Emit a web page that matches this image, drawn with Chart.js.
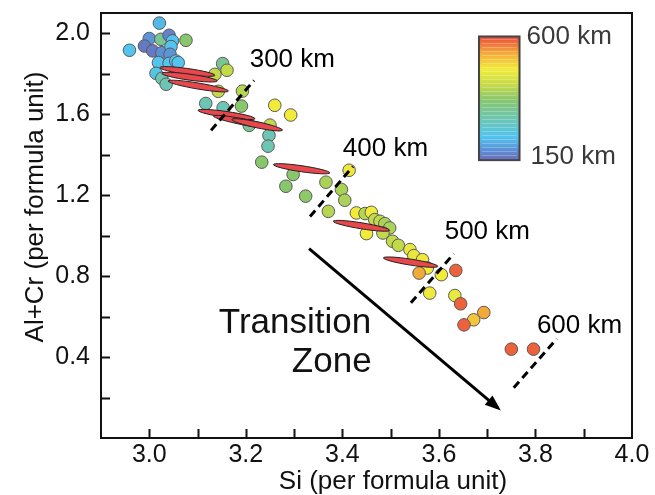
<!DOCTYPE html>
<html lang="en">
<head>
<meta charset="UTF-8">
<title>Si vs Al+Cr</title>
<script src="https://cdn.jsdelivr.net/npm/chart.js"></script>
<style>
  html, body { margin: 0; padding: 0; background: #fff; }
</style>
</head>
<body>
<canvas id="chart" width="655" height="495"></canvas>
<script>
// garnet analyses: Si and Al+Cr (per formula unit), depth coded by colour
var siValues = [3.021, 2.959, 3.000, 2.990, 3.024, 3.041, 3.048, 3.076, 3.007, 3.026,
                3.045, 3.043, 3.019, 3.041, 3.055, 3.060, 3.014, 3.026, 3.035, 3.152,
                3.161, 3.136, 3.143, 3.193, 3.117, 3.153, 3.191, 3.260, 3.293, 3.250,
                3.207, 3.248, 3.246, 3.233, 3.298, 3.283, 3.366, 3.324, 3.371, 3.414,
                3.398, 3.405, 3.429, 3.447, 3.460, 3.467, 3.478, 3.488, 3.498, 3.450,
                3.484, 3.504, 3.516, 3.540, 3.548, 3.566, 3.576, 3.559, 3.605, 3.635,
                3.581, 3.633, 3.645, 3.693, 3.672, 3.652, 3.750, 3.796];
var alcrValues = [2.050, 1.916, 1.974, 1.937, 1.970, 1.990, 1.962, 1.965, 1.913, 1.904,
                  1.934, 1.896, 1.855, 1.851, 1.863, 1.855, 1.802, 1.777, 1.748, 1.850,
                  1.817, 1.797, 1.713, 1.714, 1.653, 1.632, 1.640, 1.644, 1.596, 1.546,
                  1.545, 1.495, 1.442, 1.363, 1.302, 1.244, 1.264, 1.195, 1.120, 1.323,
                  1.228, 1.175, 1.112, 1.109, 1.115, 1.079, 1.071, 1.059, 1.038, 1.010,
                  1.013, 0.972, 0.952, 0.931, 0.901, 0.881, 0.840, 0.815, 0.807, 0.828,
                  0.716, 0.704, 0.663, 0.620, 0.584, 0.559, 0.439, 0.439];
var depthKm = [225, 235, 190, 165, 330, 170, 235, 370, 165, 185,
               235, 190, 235, 235, 235, 235, 245, 300, 300, 330,
               420, 420, 420, 410, 300, 300, 370, 480, 480, 420,
               330, 300, 300, 370, 370, 370, 400, 375, 410, 485,
               400, 400, 480, 410, 480, 420, 420, 400, 400, 480,
               420, 420, 420, 470, 470, 475, 480, 540, 480, 585,
               475, 470, 585, 540, 515, 585, 585, 585];

// red elongated ellipses (end points in data units)
var ellSi1 = [3.022, 3.026, 3.039, 3.101, 3.133, 3.171, 3.257, 3.381, 3.485];
var ellAl1 = [1.830, 1.802, 1.764, 1.619, 1.591, 1.574, 1.351, 1.071, 0.890];
var ellSi2 = [3.136, 3.141, 3.164, 3.219, 3.257, 3.276, 3.374, 3.498, 3.598];
var ellAl2 = [1.792, 1.764, 1.714, 1.578, 1.533, 1.521, 1.310, 1.026, 0.848];

// dashed depth markers
var depthNames = ['300 km', '400 km', '500 km', '600 km'];
var markSi1 = [3.128, 3.333, 3.542, 3.755];
var markAl1 = [1.520, 1.094, 0.668, 0.248];
var markSi2 = [3.217, 3.422, 3.631, 3.844];
var markAl2 = [1.767, 1.342, 0.911, 0.490];
var nameSi = [3.208, 3.401, 3.612, 3.803];
var nameAl = [1.871, 1.431, 1.020, 0.554];

// arrow of the transition zone
var arrowSi = [3.331, 3.722];
var arrowAl = [0.936, 0.149];

// axis ticks
var xTickValues = [3.0, 3.1, 3.2, 3.3, 3.4, 3.5, 3.6, 3.7, 3.8, 3.9, 4.0];
var yTickValues = [0.2, 0.4, 0.6, 0.8, 1.0, 1.2, 1.4, 1.6, 1.8, 2.0];

var colorStops = [[150, '#6b6bb5'], [185, '#5d8fd6'], [235, '#52c4ee'], [300, '#6dc6b4'],
                  [370, '#88c76c'], [420, '#c2d94a'], [480, '#f1ec3a'], [540, '#f3a93a'],
                  [600, '#ea4a3e']];

var FONT = '"Liberation Sans", Arial, sans-serif';

function hexToRgb(h) {
    return [parseInt(h.substr(1, 2), 16), parseInt(h.substr(3, 2), 16), parseInt(h.substr(5, 2), 16)];
}

function depthColor(d) {
    for (var i = 0; i < colorStops.length - 1; i++) {
        var a = colorStops[i], b = colorStops[i + 1];
        if (d <= b[0]) {
            var t = Math.max(0, (d - a[0]) / (b[0] - a[0]));
            var ca = hexToRgb(a[1]), cb = hexToRgb(b[1]);
            var c = ca.map(function (v, k) { return Math.round(v + (cb[k] - v) * t); });
            return 'rgb(' + c.join(',') + ')';
        }
    }
    return colorStops[colorStops.length - 1][1];
}

var points = siValues.map(function (x, i) { return { x: x, y: alcrValues[i] }; });

var datasets = [];
for (var i = 0; i < depthNames.length; i++) {
    datasets.push({
        type: 'line',
        data: [{ x: markSi1[i], y: markAl1[i] }, { x: markSi2[i], y: markAl2[i] }],
        borderColor: '#000',
        borderWidth: 3,
        borderDash: [8, 5],
        pointRadius: 0,
        order: 0
    });
}
datasets.push({
    type: 'line',
    data: [{ x: arrowSi[0], y: arrowAl[0] }, { x: arrowSi[1], y: arrowAl[1] }],
    borderColor: '#000',
    borderWidth: 3,
    pointRadius: 0,
    order: 0
});
var POINTS_INDEX = datasets.length;
datasets.push({
    type: 'scatter',
    data: points,
    backgroundColor: depthKm.map(depthColor),
    borderColor: '#5a5a5a',
    borderWidth: 1,
    pointRadius: 6.3,
    order: 1
});

var extras = {
    id: 'extras',
    afterDatasetDraw: function (chart, args) {
        if (args.index !== POINTS_INDEX) return;
        var ctx = chart.ctx, sx = chart.scales.x, sy = chart.scales.y;
        ctx.save();
        for (var i = 0; i < ellSi1.length; i++) {
            var x1 = sx.getPixelForValue(ellSi1[i]), y1 = sy.getPixelForValue(ellAl1[i]);
            var x2 = sx.getPixelForValue(ellSi2[i]), y2 = sy.getPixelForValue(ellAl2[i]);
            ctx.beginPath();
            ctx.ellipse((x1 + x2) / 2, (y1 + y2) / 2, Math.hypot(x2 - x1, y2 - y1) / 2, 3,
                        Math.atan2(y2 - y1, x2 - x1), 0, 2 * Math.PI);
            ctx.fillStyle = '#e8474c';
            ctx.fill();
            ctx.lineWidth = 1;
            ctx.strokeStyle = '#222';
            ctx.stroke();
        }
        ctx.restore();
    },
    afterDraw: function (chart) {
        var ctx = chart.ctx, sx = chart.scales.x, sy = chart.scales.y, a = chart.chartArea;
        ctx.save();

        // arrow head
        var ax0 = sx.getPixelForValue(arrowSi[0]), ay0 = sy.getPixelForValue(arrowAl[0]);
        var ax1 = sx.getPixelForValue(arrowSi[1]), ay1 = sy.getPixelForValue(arrowAl[1]);
        var ang = Math.atan2(ay1 - ay0, ax1 - ax0);
        ctx.translate(ax1, ay1);
        ctx.rotate(ang);
        ctx.beginPath();
        ctx.moveTo(4, 0);
        ctx.lineTo(-12, -6);
        ctx.lineTo(-12, 6);
        ctx.closePath();
        ctx.fillStyle = '#000';
        ctx.fill();
        ctx.setTransform(1, 0, 0, 1, 0, 0);

        // inward tick marks
        ctx.strokeStyle = '#111';
        ctx.lineWidth = 2;
        sx.ticks.forEach(function (t) {
            if (t.value >= 3.995) return;
            var p = Math.round(sx.getPixelForValue(t.value)) + 0.5;
            ctx.beginPath(); ctx.moveTo(p, a.bottom); ctx.lineTo(p, a.bottom - 9); ctx.stroke();
        });
        sy.ticks.forEach(function (t) {
            var p = Math.round(sy.getPixelForValue(t.value)) + 0.5;
            ctx.beginPath(); ctx.moveTo(a.left, p); ctx.lineTo(a.left + 9, p); ctx.stroke();
        });
        ctx.strokeRect(a.left, a.top, a.right - a.left, a.bottom - a.top);

        // depth labels
        ctx.fillStyle = '#000';
        ctx.font = '26px ' + FONT;
        ctx.textAlign = 'left';
        ctx.textBaseline = 'middle';
        for (var i = 0; i < depthNames.length; i++) {
            ctx.fillText(depthNames[i], sx.getPixelForValue(nameSi[i]), sy.getPixelForValue(nameAl[i]));
        }

        // transition zone
        ctx.font = '35px ' + FONT;
        ctx.textAlign = 'center';
        ctx.fillStyle = '#111';
        ctx.fillText('Transition', sx.getPixelForValue(3.302), sy.getPixelForValue(0.569));
        ctx.fillText('Zone', sx.getPixelForValue(3.378), sy.getPixelForValue(0.376));

        // colour bar
        var bx0 = sx.getPixelForValue(3.683), bx1 = sx.getPixelForValue(3.767);
        var by0 = sy.getPixelForValue(1.984), by1 = sy.getPixelForValue(1.373);
        var grad = ctx.createLinearGradient(0, by0, 0, by1);
        colorStops.forEach(function (s) {
            grad.addColorStop((600 - s[0]) / 450, s[1]);
        });
        ctx.fillStyle = grad;
        ctx.fillRect(bx0, by0, bx1 - bx0, by1 - by0);
        ctx.strokeStyle = 'rgba(255,255,255,0.25)';
        ctx.lineWidth = 1;
        for (var yy = by0 + 3; yy < by1; yy += 4) {
            ctx.beginPath(); ctx.moveTo(bx0 + 3, yy); ctx.lineTo(bx1 - 3, yy); ctx.stroke();
        }
        ctx.strokeStyle = '#444';
        ctx.lineWidth = 2;
        ctx.strokeRect(bx0, by0, bx1 - bx0, by1 - by0);
        ctx.fillStyle = '#3a3a3a';
        ctx.font = '26px ' + FONT;
        ctx.textAlign = 'left';
        ctx.fillText('600 km', bx1 + 7, by0);
        ctx.fillText('150 km', bx1 + 11, by1 - 3);

        // axis titles
        ctx.fillStyle = '#111';
        ctx.font = '26px ' + FONT;
        ctx.textAlign = 'center';
        ctx.fillText('Si (per formula unit)', 393, 482);
        ctx.translate(36, 207);
        ctx.rotate(-Math.PI / 2);
        ctx.fillText('Al+Cr (per formula unit)', 0, 0);
        ctx.restore();
    }
};

new Chart(document.getElementById('chart').getContext('2d'), {
    type: 'scatter',
    data: { datasets: datasets },
    options: {
        responsive: false,
        animation: false,
        layout: { padding: { top: 13, right: 23, left: 0, bottom: 0 } },
        plugins: { legend: { display: false }, tooltip: { enabled: false } },
        scales: {
            x: {
                type: 'linear',
                min: 2.9,
                max: 4.0,
                grid: { display: false, drawTicks: false },
                border: { display: false },
                afterBuildTicks: function (s) {
                    s.ticks = xTickValues.map(function (v) { return { value: v }; });
                },
                afterFit: function (s) {
                    s.height = 57;
                    s.paddingLeft = 0; s.paddingRight = 0;
                },
                ticks: {
                    autoSkip: false,
                    maxRotation: 0,
                    padding: 2,
                    color: '#111',
                    font: { family: FONT, size: 25 },
                    callback: function (v) {
                        var k = Math.round(v * 10);
                        return (k % 2 === 0) ? (k / 10).toFixed(1) : '';
                    }
                }
            },
            y: {
                type: 'linear',
                min: 0,
                max: 2.1,
                grid: { display: false, drawTicks: false },
                border: { display: false },
                afterBuildTicks: function (s) {
                    s.ticks = yTickValues.map(function (v) { return { value: v }; });
                },
                afterFit: function (s) {
                    s.width = 101;
                    s.paddingTop = 0; s.paddingBottom = 0;
                },
                ticks: {
                    autoSkip: false,
                    padding: 11,
                    color: '#111',
                    font: { family: FONT, size: 25 },
                    callback: function (v) {
                        var k = Math.round(v * 10);
                        return (k % 4 === 0) ? (k / 10).toFixed(1) : '';
                    }
                }
            }
        }
    },
    plugins: [extras]
});
</script>
</body>
</html>
